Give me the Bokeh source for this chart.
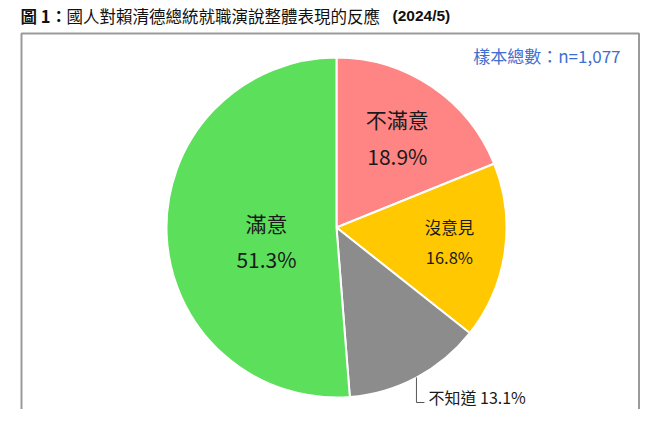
import math
from bokeh.plotting import figure
from bokeh.models import Range1d, ColumnDataSource
from bokeh.core.properties import value
from bokeh.embed import file_html
from bokeh.resources import INLINE

# ---- data ----
categories = ["不滿意", "沒意見", "不知道", "滿意"]
percents = [18.9, 16.8, 13.1, 51.3]
colors = ["#FF8585", "#FFC800", "#8C8C8C", "#5CE05C"]
title_parts = ["圖 1：", "國人對賴清德總統就職演說整體表現的反應", "(2024/5)"]
sample_note = "樣本總數：n=1,077"

# ---- layout ----
W, H = 640, 409
CJK = "Noto Sans CJK TC"
def Y(yd):
    return H - yd

p = figure(width=W, height=H, x_range=Range1d(0, W), y_range=Range1d(0, H),
           output_backend="svg", toolbar_location=None, min_border=0)
p.axis.visible = False
p.grid.visible = False
p.outline_line_color = None
p.background_fill_color = "white"
p.border_fill_color = "white"

# frame (bottom edge lies below the visible area, as in the reference)
p.quad(left=[21], right=[638.5], top=[Y(33)], bottom=[Y(430)],
       fill_color=None, line_color="#9A9A9A", line_width=2)

# title
TY = Y(15)
p.text(x=[20], y=[TY], text=[title_parts[0]], text_font=value(CJK),
       text_font_size="16.5px", text_font_style="bold", text_baseline="middle",
       text_color="#111111")
p.text(x=[66], y=[TY], text=[title_parts[1]], text_font=value(CJK),
       text_font_size="16.5px", text_baseline="middle", text_color="#111111")
p.text(x=[392], y=[TY], text=[title_parts[2]], text_font=value("Liberation Sans"),
       text_font_size="15.5px", text_font_style="bold", text_baseline="middle",
       text_color="#111111")

# sample note
p.text(x=[620], y=[Y(55)], text=[sample_note], text_font=value(CJK),
       text_font_size="17px", text_align="right", text_baseline="middle",
       text_color="#3F6FD0")

# pie
cx, cy, R = 336, Y(227), 170
total = sum(percents)
starts, ends, mids = [], [], []
cum = 0.0
for v in percents:
    a0 = cum / total
    cum += v
    a1 = cum / total
    starts.append(math.pi / 2 - 2 * math.pi * a0)
    ends.append(math.pi / 2 - 2 * math.pi * a1)
    mids.append(2 * math.pi * (a0 + a1) / 2)  # clockwise from top

src = ColumnDataSource(dict(start=starts, end=ends, color=colors))
p.wedge(x=cx, y=cy, radius=R, start_angle="start", end_angle="end",
        direction="clock", fill_color="color", line_color="white",
        line_width=2, source=src)

# in-slice labels: (angle shift deg, radius fraction, font px, half gap)
label_layout = {0: (0, 0.64, 21, 18.5), 1: (-0.7, 0.67, 16.5, 15), 3: (-9, 0.42, 21, 18)}
for i, (sh, f, fs, gap) in label_layout.items():
    th = mids[i] + math.radians(sh)
    lx = cx + R * f * math.sin(th)
    ly = cy + R * f * math.cos(th)
    p.text(x=[lx, lx], y=[ly + gap, ly - gap],
           text=[categories[i], f"{percents[i]:.1f}%"],
           text_font=value(CJK), text_font_size=f"{fs}px",
           text_align="center", text_baseline="middle", text_color="#1A1A1A")

# outside label with leader for 不知道
th = mids[2]
ex = cx + R * math.sin(th)
ey = cy + R * math.cos(th)
p.line(x=[ex, ex, ex + 8], y=[ey, Y(402), Y(402)], line_color="#555555", line_width=1)
p.text(x=[ex + 12], y=[Y(396)], text=[f"{categories[2]} {percents[2]:.1f}%"],
       text_font=value(CJK), text_font_size="16px", text_baseline="middle",
       text_color="#1A1A1A")

open("out.html", "w").write(file_html(p, INLINE))
